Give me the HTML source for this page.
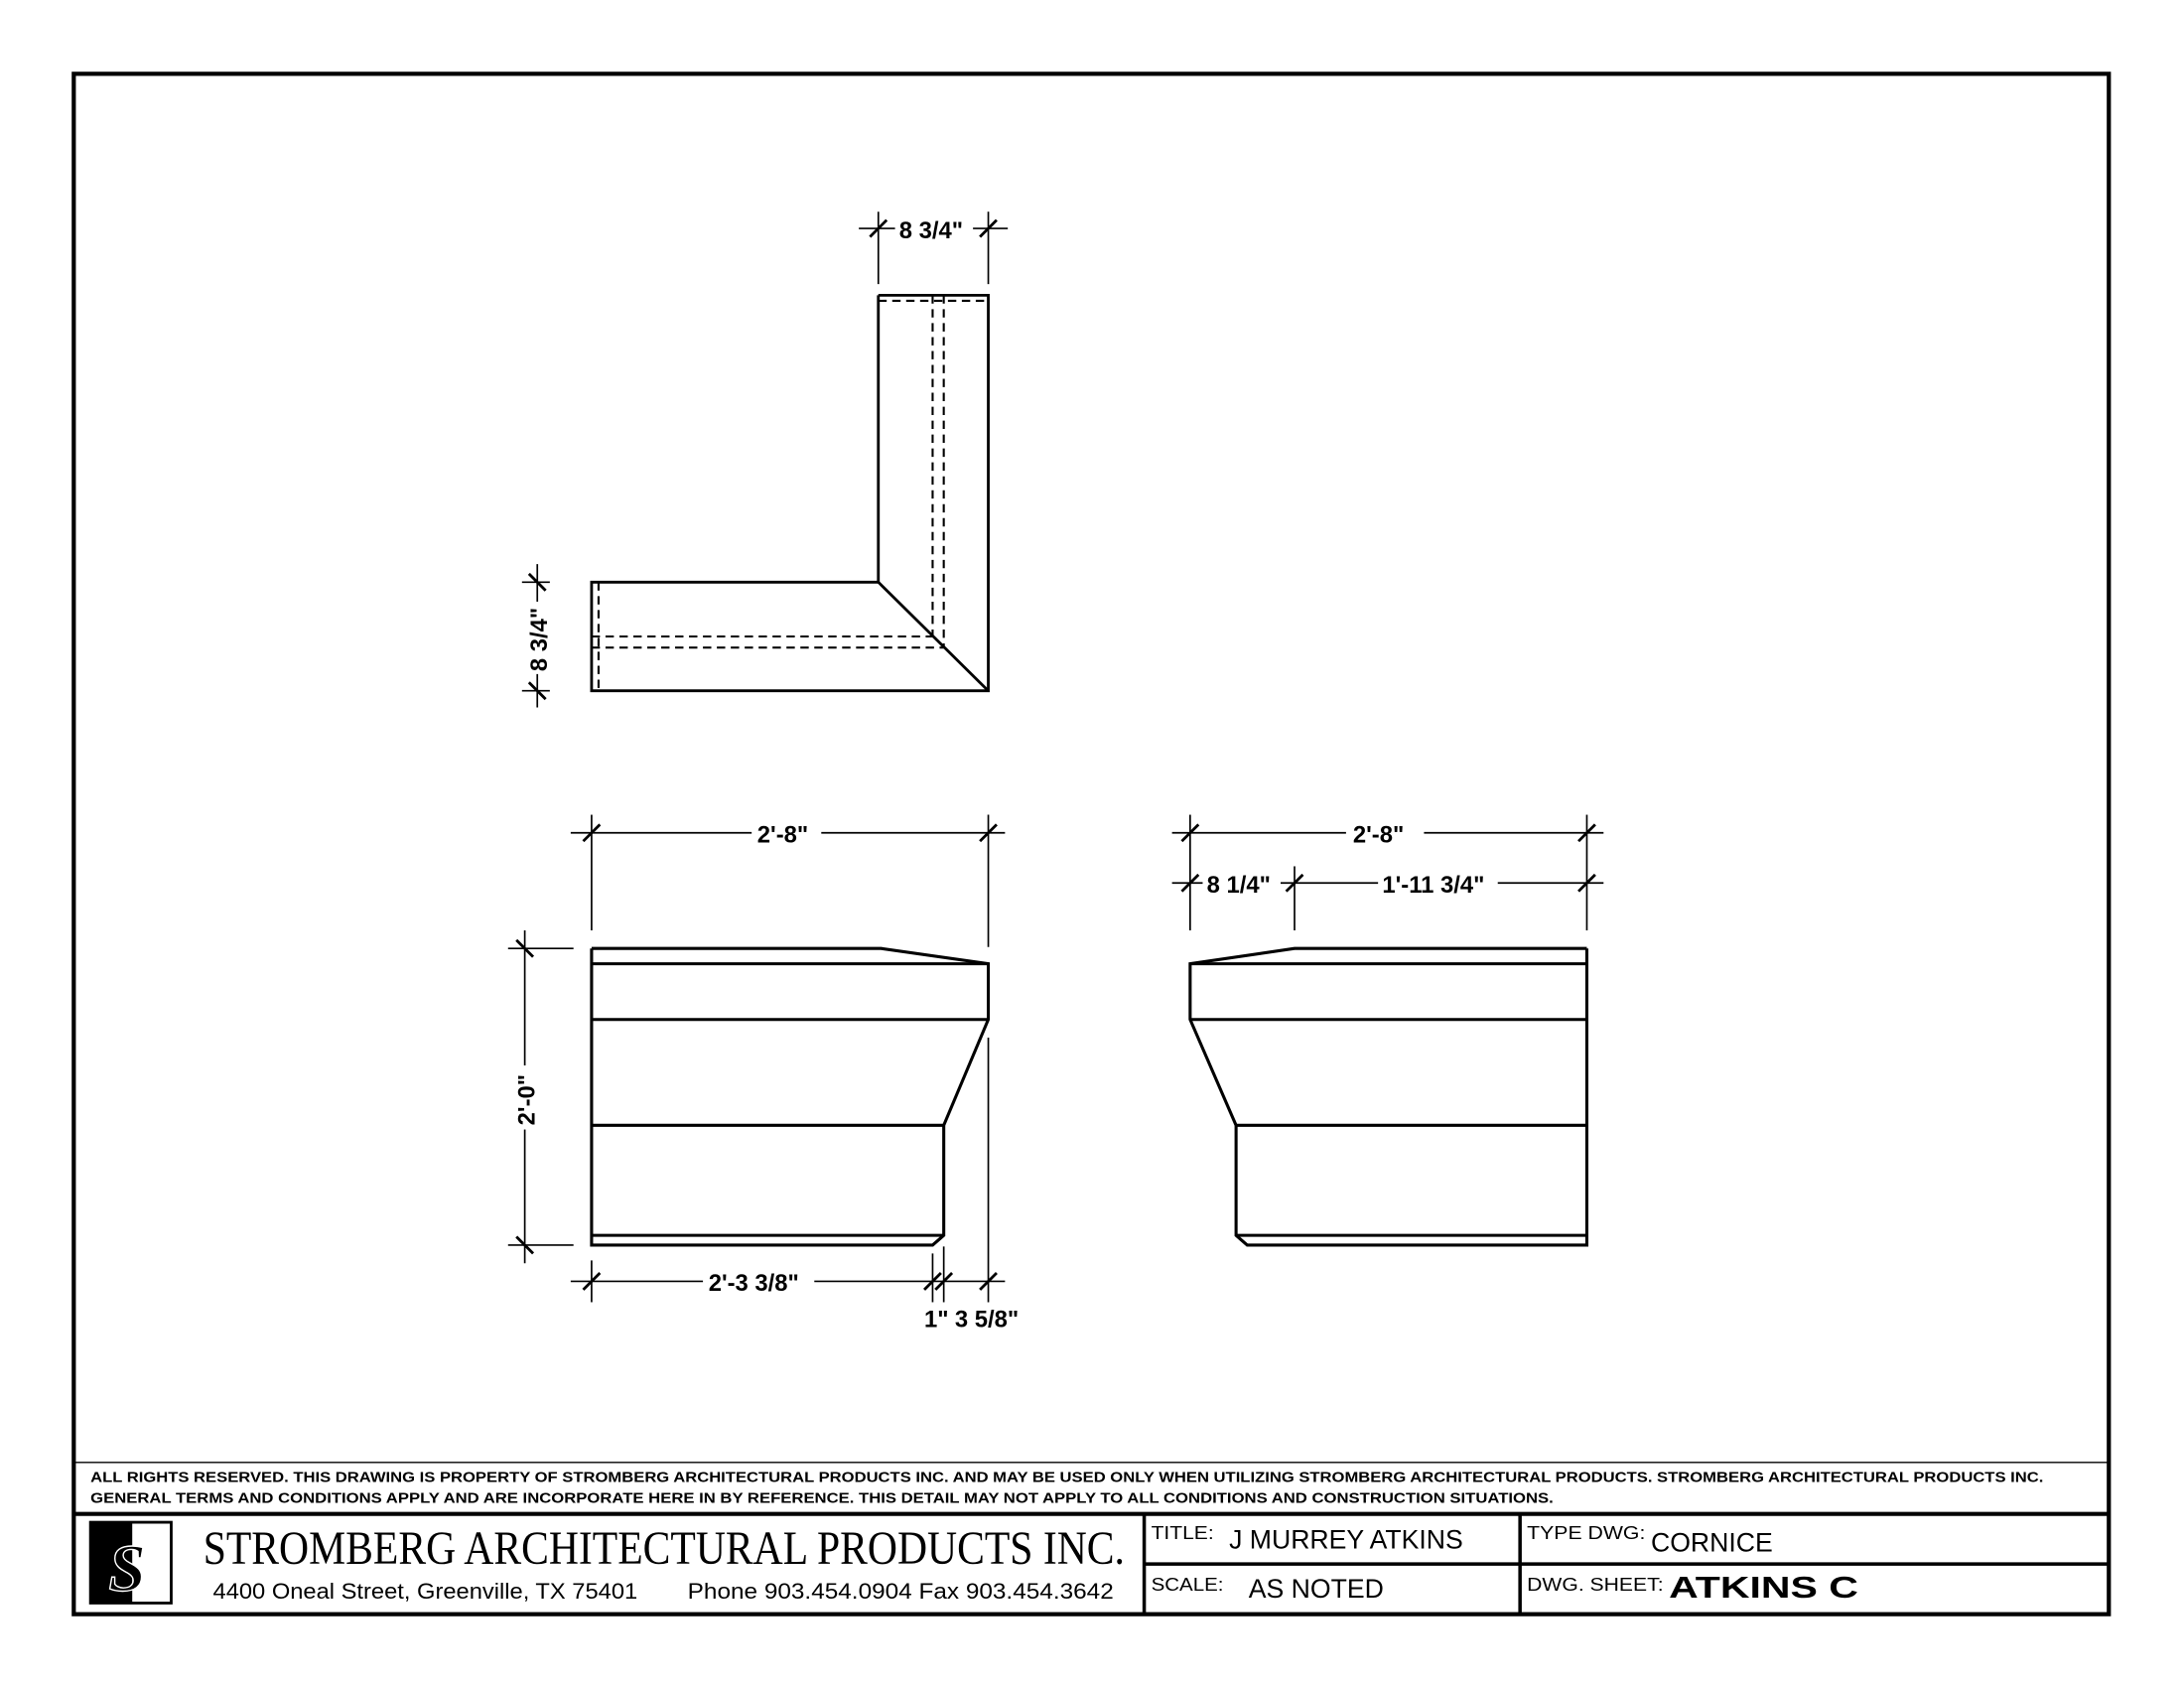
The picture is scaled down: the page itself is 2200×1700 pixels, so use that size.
<!DOCTYPE html>
<html><head><meta charset="utf-8"><style>
html,body{margin:0;padding:0;background:#fff;}
svg{display:block;}
text{font-family:"Liberation Sans",sans-serif;fill:#000;}
</style></head><body>
<svg width="2200" height="1700" viewBox="0 0 1569 1212" preserveAspectRatio="none" xmlns="http://www.w3.org/2000/svg">
<rect x="0" y="0" width="1569" height="1212" fill="#fff"/>
<g fill="none" stroke="#000">
<rect x="53" y="53" width="1462" height="1106" stroke-width="3"/>
<line x1="53" y1="1050" x2="1515" y2="1050" stroke-width="1"/>
<line x1="53" y1="1087" x2="1515" y2="1087" stroke-width="3"/>
<line x1="822" y1="1087" x2="822" y2="1159" stroke-width="2.5"/>
<line x1="1092" y1="1087" x2="1092" y2="1159" stroke-width="2.5"/>
<line x1="822" y1="1123" x2="1515" y2="1123" stroke-width="2.5"/>

<g stroke-width="2">
<polyline points="631,212 710,212 710,496 425,496 425,418 631,418 631,212"/>
<line x1="631" y1="418" x2="710" y2="496"/>
</g>
<g stroke-width="1.5" stroke-dasharray="6,4">
<line x1="631" y1="216" x2="710" y2="216"/>
<line x1="670" y1="212" x2="670" y2="457"/>
<line x1="678" y1="212" x2="678" y2="465"/>
<line x1="425" y1="457" x2="670" y2="457"/>
<line x1="425" y1="465" x2="678" y2="465"/>
<line x1="430" y1="418" x2="430" y2="496"/>
</g>
<g stroke-width="1.2">
<line x1="617" y1="164" x2="724" y2="164"/>
<line x1="631" y1="152" x2="631" y2="204"/>
<line x1="710" y1="152" x2="710" y2="204"/>
<line x1="375" y1="418" x2="395" y2="418"/>
<line x1="375" y1="496" x2="395" y2="496"/>
<line x1="386" y1="405" x2="386" y2="508"/>
</g>
<g stroke-width="2">
<line x1="625" y1="170" x2="637" y2="158"/>
<line x1="704" y1="170" x2="716" y2="158"/>
<line x1="380" y1="412" x2="392" y2="424"/>
<line x1="380" y1="490" x2="392" y2="502"/>
</g>

<g stroke-width="2.2">
<polyline points="425,681 633,681 710,692 710,732 678,808 678,887 670,894 425,894 425,681"/>
<line x1="425" y1="692" x2="710" y2="692"/>
<line x1="425" y1="732" x2="710" y2="732"/>
<line x1="425" y1="808" x2="678" y2="808"/>
<line x1="425" y1="887" x2="678" y2="887"/>
</g>
<g stroke-width="1.2">
<line x1="425" y1="585" x2="425" y2="668"/>
<line x1="710" y1="585" x2="710" y2="680"/>
<line x1="410" y1="598" x2="722" y2="598"/>
<line x1="365" y1="681" x2="412" y2="681"/>
<line x1="365" y1="894" x2="412" y2="894"/>
<line x1="377" y1="668" x2="377" y2="907"/>
<line x1="425" y1="905" x2="425" y2="935"/>
<line x1="670" y1="900" x2="670" y2="935"/>
<line x1="678" y1="895" x2="678" y2="935"/>
<line x1="710" y1="745" x2="710" y2="935"/>
<line x1="410" y1="920" x2="722" y2="920"/>
</g>
<g stroke-width="2">
<line x1="419" y1="604" x2="431" y2="592"/>
<line x1="704" y1="604" x2="716" y2="592"/>
<line x1="371" y1="675" x2="383" y2="687"/>
<line x1="371" y1="888" x2="383" y2="900"/>
<line x1="419" y1="926" x2="431" y2="914"/>
<line x1="664" y1="926" x2="676" y2="914"/>
<line x1="672" y1="926" x2="684" y2="914"/>
<line x1="704" y1="926" x2="716" y2="914"/>
</g>

<g stroke-width="2.2">
<polyline points="1140,681 930,681 855,692 855,732 888,808 888,887 896,894 1140,894 1140,681"/>
<line x1="855" y1="692" x2="1140" y2="692"/>
<line x1="855" y1="732" x2="1140" y2="732"/>
<line x1="888" y1="808" x2="1140" y2="808"/>
<line x1="888" y1="887" x2="1140" y2="887"/>
</g>
<g stroke-width="1.2">
<line x1="855" y1="585" x2="855" y2="668"/>
<line x1="1140" y1="585" x2="1140" y2="668"/>
<line x1="930" y1="622" x2="930" y2="668"/>
<line x1="842" y1="598" x2="1152" y2="598"/>
<line x1="842" y1="634" x2="1152" y2="634"/>
</g>
<g stroke-width="2">
<line x1="849" y1="604" x2="861" y2="592"/>
<line x1="1134" y1="604" x2="1146" y2="592"/>
<line x1="849" y1="640" x2="861" y2="628"/>
<line x1="924" y1="640" x2="936" y2="628"/>
<line x1="1134" y1="640" x2="1146" y2="628"/>
</g>
</g>

<g fill="#fff">
<rect x="643" y="154" width="56" height="20"/>
<rect x="540" y="588" width="50" height="20"/>
<rect x="967" y="588" width="56" height="20"/>
<rect x="864" y="624" width="56" height="20"/>
<rect x="990" y="624" width="86" height="20"/>
<rect x="505" y="910" width="80" height="20"/>
<rect x="367" y="765" width="20" height="46"/>
<rect x="376" y="432" width="20" height="52"/>
</g>
<g font-size="17" font-weight="bold">
<text x="646" y="171">8 3/4"</text>
<text x="544" y="605">2'-8"</text>
<text x="972" y="605">2'-8"</text>
<text x="867" y="641">8 1/4"</text>
<text x="993" y="641">1'-11 3/4"</text>
<text x="509" y="927">2'-3 3/8"</text>
<text x="664" y="953">1"</text>
<text x="686" y="953">3 5/8"</text>
<text transform="translate(384,808) rotate(-90)">2'-0"</text>
<text transform="translate(393,482) rotate(-90)">8 3/4"</text>
</g>

<g font-size="10.5" font-weight="bold">
<text x="65" y="1064" textLength="1403" lengthAdjust="spacingAndGlyphs">ALL RIGHTS RESERVED. THIS DRAWING IS PROPERTY OF STROMBERG ARCHITECTURAL PRODUCTS INC. AND MAY BE USED ONLY WHEN UTILIZING STROMBERG ARCHITECTURAL PRODUCTS.  STROMBERG ARCHITECTURAL PRODUCTS INC.</text>
<text x="65" y="1079" textLength="1051" lengthAdjust="spacingAndGlyphs">GENERAL TERMS AND CONDITIONS APPLY AND ARE INCORPORATE HERE IN BY REFERENCE.  THIS DETAIL MAY NOT APPLY TO ALL CONDITIONS AND CONSTRUCTION SITUATIONS.</text>
</g>

<rect x="65" y="1093" width="58" height="58" fill="#fff" stroke="#000" stroke-width="2"/>
<rect x="65" y="1093" width="30" height="58" fill="#000"/>
<text x="78" y="1142" style="font-family:'Liberation Serif',serif;font-style:italic" font-size="48" font-weight="bold" fill="#000" stroke="#fff" stroke-width="1">S</text>

<text x="146" y="1123" style="font-family:'Liberation Serif',serif" font-size="34" textLength="662" lengthAdjust="spacingAndGlyphs">STROMBERG ARCHITECTURAL PRODUCTS INC.</text>
<text x="153" y="1148" font-size="16" textLength="305" lengthAdjust="spacingAndGlyphs">4400 Oneal Street, Greenville, TX  75401</text>
<text x="494" y="1148" font-size="16" textLength="306" lengthAdjust="spacingAndGlyphs">Phone 903.454.0904   Fax 903.454.3642</text>

<g font-size="13"><text x="827" y="1105" textLength="45" lengthAdjust="spacingAndGlyphs">TITLE:</text>
<text x="827" y="1142" textLength="52" lengthAdjust="spacingAndGlyphs">SCALE:</text>
<text x="1097" y="1105" textLength="85" lengthAdjust="spacingAndGlyphs">TYPE DWG:</text>
<text x="1097" y="1142" textLength="98" lengthAdjust="spacingAndGlyphs">DWG. SHEET:</text></g>
<g font-size="19"><text x="883" y="1112">J MURREY ATKINS</text>
<text x="897" y="1147">AS NOTED</text>
<text x="1186" y="1114">CORNICE</text></g>
<text x="1199" y="1147" font-size="22" font-weight="bold" textLength="136" lengthAdjust="spacingAndGlyphs">ATKINS C</text>
</svg>
</body></html>
